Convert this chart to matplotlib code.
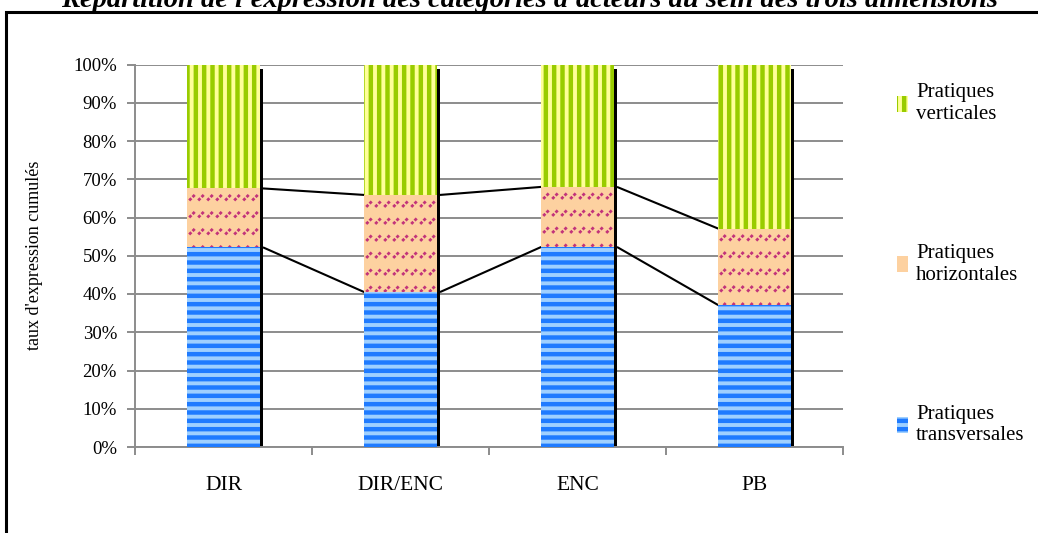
import matplotlib
matplotlib.use("Agg")
import matplotlib.pyplot as plt
import numpy as np
from matplotlib.patches import Rectangle
from matplotlib.collections import LineCollection
from matplotlib.ticker import FixedLocator, PercentFormatter

plt.rcParams["font.family"] = ["Liberation Serif", "DejaVu Serif"]
plt.rcParams["hatch.linewidth"] = 3.2

categories = ["DIR", "DIR/ENC", "ENC", "PB"]
transversales = [52.2, 40.5, 52.3, 37.1]
horizontales = [15.4, 25.4, 15.7, 20.0]
verticales = [32.4, 34.1, 32.0, 42.9]
series_names = ["Pratiques\ntransversales", "Pratiques\nhorizontales", "Pratiques\nverticales"]
title = "Répartition de l'expression des catégories d'acteurs au sein des trois dimensions"
ylabel = "taux d'expression cumulés"

W, H = 1038, 533
fig = plt.figure(figsize=(W / 100, H / 100), dpi=100)
ax = fig.add_axes([135 / W, 1 - 447 / H, 708 / W, 382.5 / H])

x = np.arange(len(categories))
bw = 0.41
grid_c = "#8c8c8c"

t = np.array(transversales)
h = np.array(horizontales)
v = np.array(verticales)
total = t + h + v

# black drop shadow behind each stacked column
ax.bar(x + 0.018, total - 0.6, bw, bottom=-0.6, color="black", zorder=2, linewidth=0)

b1 = ax.bar(x, t, bw, color="#9fd0ff", edgecolor="#1f7bff", hatch="--", linewidth=0, zorder=3)
b2 = ax.bar(x, h, bw, bottom=t, color="#fdd1a0", edgecolor="#fdd1a0", linewidth=0, zorder=3)
b3 = ax.bar(x, v, bw, bottom=t + h, color="#ffff99", edgecolor="#99cc00", hatch="||", linewidth=0, zorder=3)
for cont in (b1, b3):
    for p in cont:
        if hasattr(p, "set_hatch_linewidth"):
            p.set_hatch_linewidth(3.2)

# series lines between adjacent columns
for cum in (t, t + h):
    for i in range(len(x) - 1):
        ax.plot([x[i] + bw / 2 + 0.018, x[i + 1] - bw / 2], [cum[i], cum[i + 1]],
                color="black", lw=1.5, zorder=2.5, solid_capstyle="butt")

ax.set_xlim(-0.5, 3.5)
ax.set_ylim(0, 100)
fig.canvas.draw()

# dotted diagonal dashes on the "horizontales" segment
to_px = ax.transData.transform
to_data = ax.transData.inverted().transform
for i, p in enumerate(b2):
    (x0, y0), (x1, y1) = to_px([(x[i] - bw / 2, t[i]), (x[i] + bw / 2, t[i] + h[i])])
    segs = []
    yy = y1 - 12
    while yy > y0 - 6:
        xx = x0 + 2
        while xx < x1:
            segs.append(to_data([(xx, yy), (xx + 6, yy + 6)]))
            xx += 9
        yy -= 17
    lc = LineCollection(segs, colors="#c2337a", linewidths=2.0, linestyles=(0, (1.1, 0.6)), zorder=4)
    ax.add_collection(lc)
    lc.set_clip_path(p)

ax.yaxis.set_major_locator(FixedLocator(np.arange(0, 101, 10)))
ax.yaxis.set_major_formatter(PercentFormatter(decimals=0))
ax.grid(axis="y", color=grid_c, lw=1.4, zorder=0)
ax.set_axisbelow(True)
ax.set_xticks([-0.5, 0.5, 1.5, 2.5, 3.5])
ax.set_xticklabels([])
ax.set_xticks(x, minor=True)
ax.set_xticklabels(categories, minor=True, fontsize=15.5)
ax.tick_params(axis="x", which="major", length=6, width=1.4, color=grid_c)
ax.tick_params(axis="x", which="minor", length=0, pad=21)
ax.tick_params(axis="y", length=6, width=1.4, color=grid_c, labelsize=13.5, pad=7)
for s in ("top", "right"):
    ax.spines[s].set_visible(False)
for s in ("left", "bottom"):
    ax.spines[s].set_color(grid_c)
    ax.spines[s].set_linewidth(1.4)
ax.set_ylabel(ylabel, fontsize=13)
ax.yaxis.set_label_coords(-0.13, 0.5)

fig.legend([b3, b2, b1], series_names[::-1], loc="upper left",
           bbox_to_anchor=(887 / W, 1 - 73 / H), frameon=False, fontsize=15,
           handlelength=0.5, handleheight=0.8, handletextpad=0.4,
           labelspacing=5.75, borderpad=0)

# outer frame and title
fig.add_artist(Rectangle((6 / W, -0.1), 1.2, 1 - 12 / H + 0.1, transform=fig.transFigure,
                         fill=False, edgecolor="black", lw=2.2))
fig.text(0.51, 1 - 7 / H, title, ha="center", va="baseline", fontsize=20.5,
         style="italic", weight="bold")

fig.savefig("out.png", dpi=100)
